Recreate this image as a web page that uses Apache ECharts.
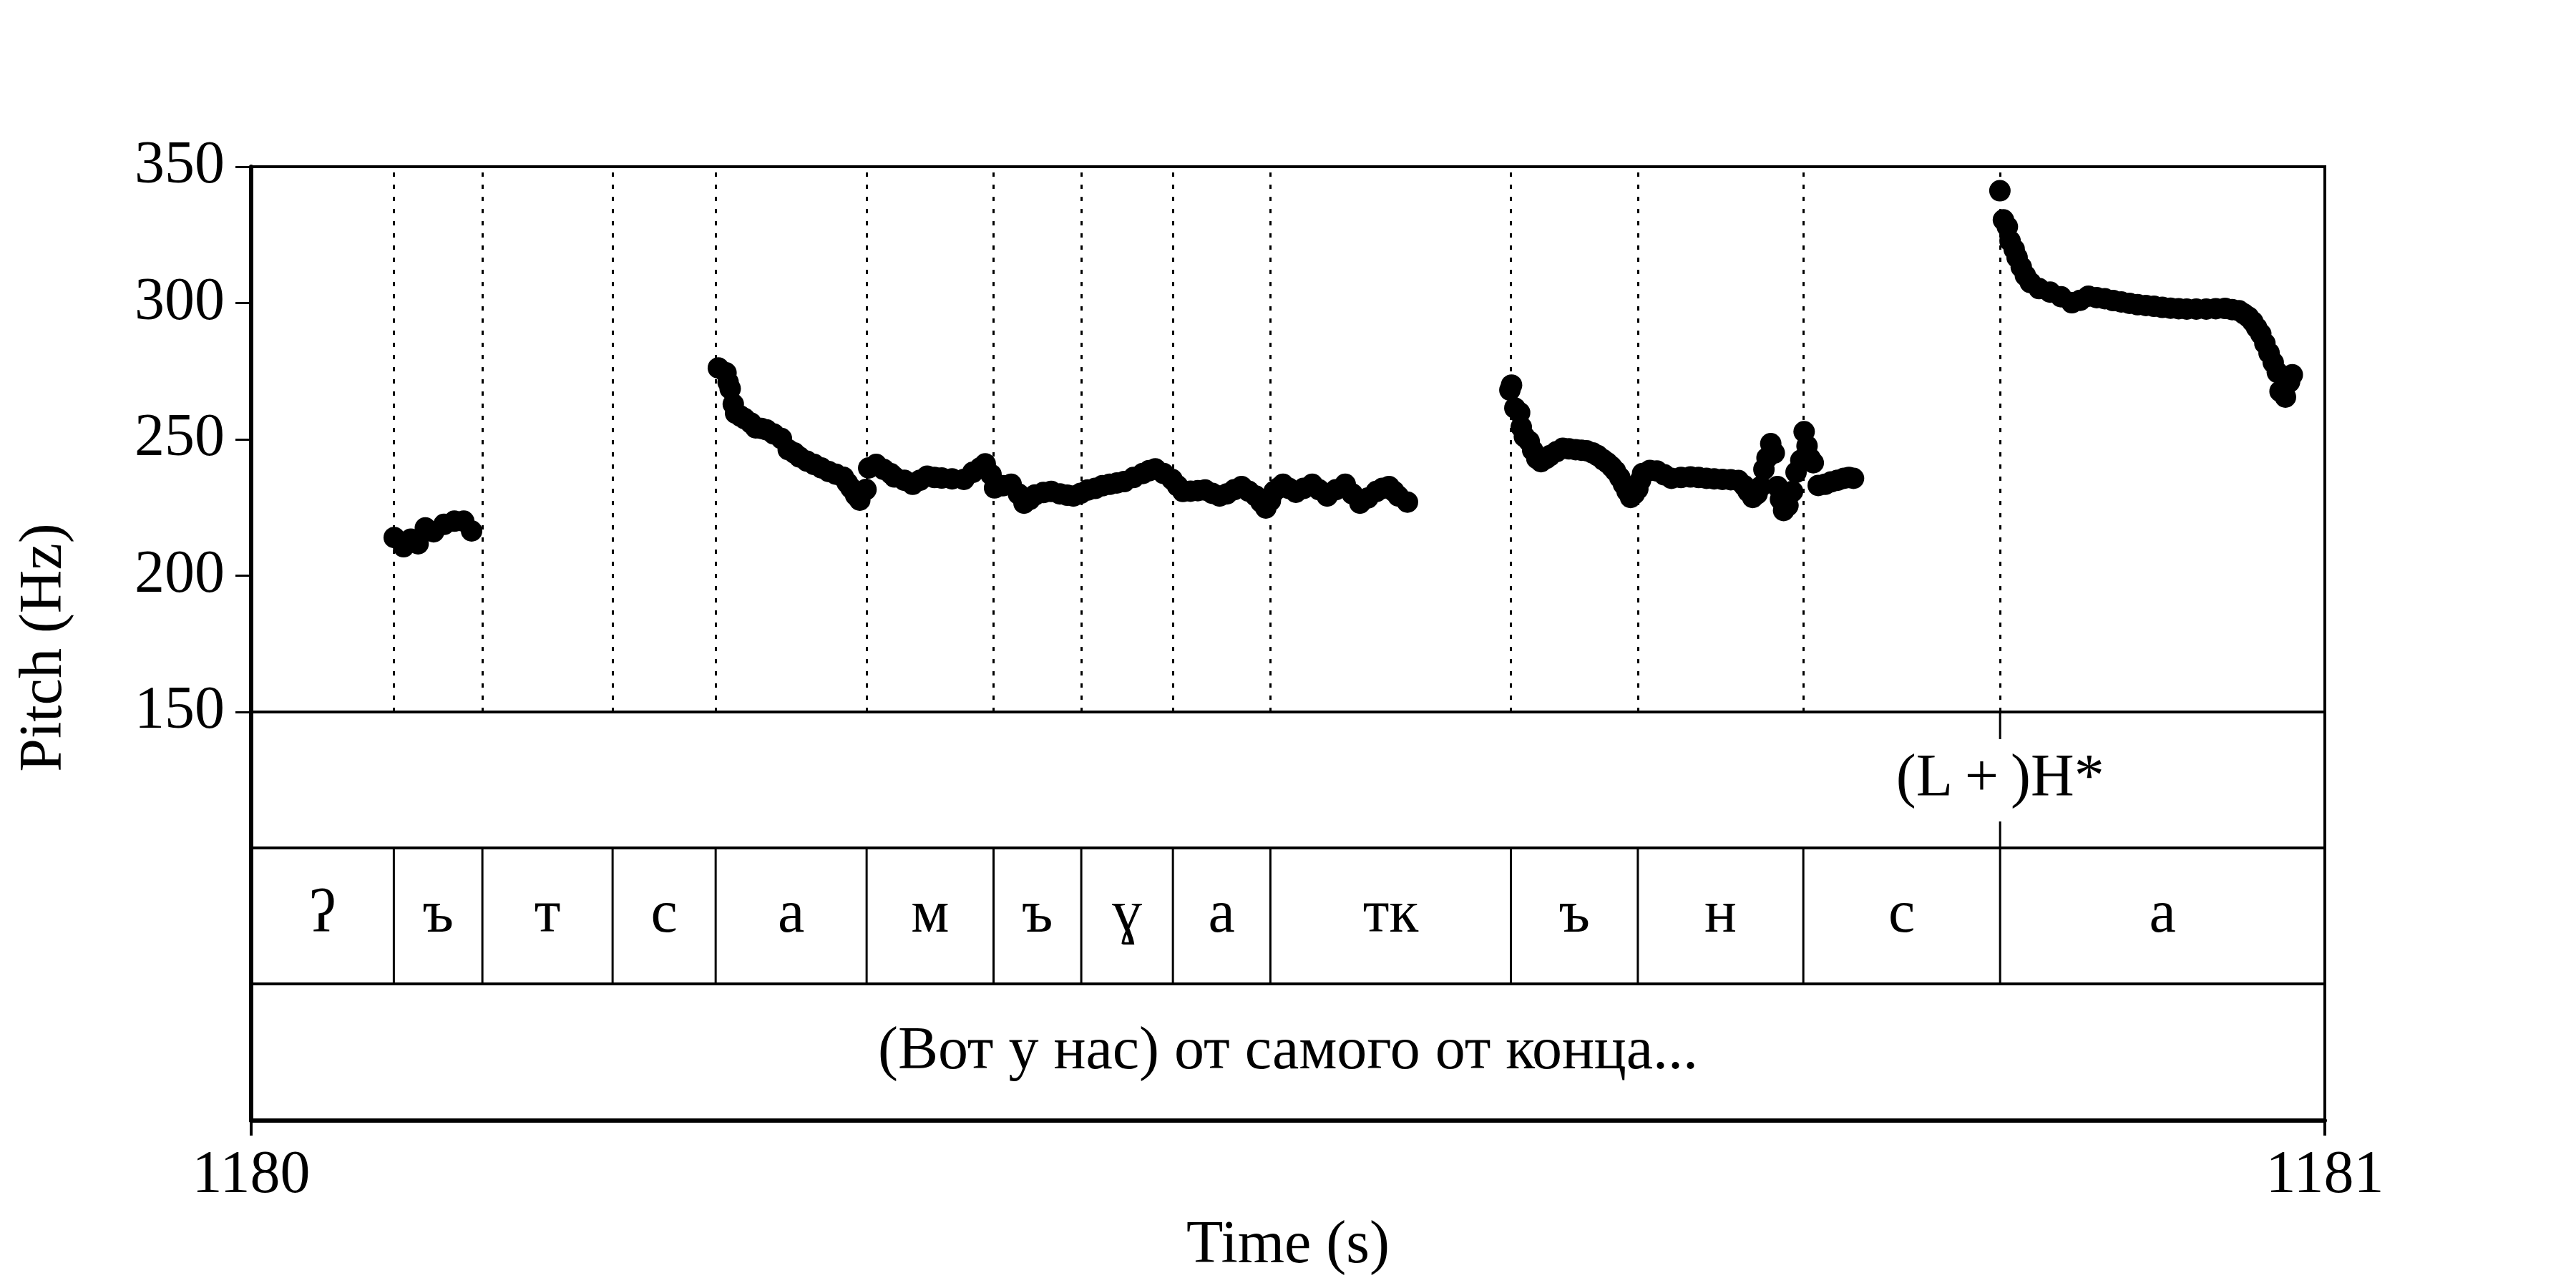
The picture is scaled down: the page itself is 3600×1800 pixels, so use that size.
<!DOCTYPE html>
<html>
<head>
    <meta charset="UTF-8">
    <title>Pitch track</title>
    <script src="https://cdn.jsdelivr.net/npm/echarts@6/dist/echarts.min.js"></script>
</head>
<body style="margin:0; background:#fff;">
    <div id="chart" style="width:3600px; height:1800px;"></div>
    <script>
        // time is given in seconds after 1180 s
        var startTime = 1180;
        var timeTicks = [1180, 1181];
        var pitchTicks = [150, 200, 250, 300, 350];

        // pitch points: [time offset (s), Hz]
        var pitchSeg1 = [
            [0.0690, 214.0], [0.0735, 210.6], [0.0770, 213.4], [0.0805, 211.7], [0.0840, 217.5],
            [0.0880, 216.1], [0.0930, 218.8], [0.0980, 220.0], [0.1025, 220.0], [0.1063, 216.4]
        ];
        var pitchSeg2 = [
            [0.2253, 276.2], [0.2290, 274.4], [0.2300, 271.0], [0.2310, 268.6], [0.2325, 262.9],
            [0.2336, 259.6], [0.2360, 258.5], [0.2380, 257.6], [0.2410, 256.0], [0.2433, 254.2],
            [0.2460, 254.0], [0.2485, 253.5], [0.2520, 252.0], [0.2557, 250.3], [0.2590, 246.2],
            [0.2620, 245.0], [0.2644, 243.5], [0.2680, 242.0], [0.2715, 240.8], [0.2750, 239.5],
            [0.2785, 238.2], [0.2820, 237.2], [0.2856, 236.1], [0.2875, 234.0], [0.2892, 232.2],
            [0.2915, 229.5], [0.2935, 227.7], [0.2965, 231.6],
            [0.2978, 239.5], [0.3014, 240.8], [0.3050, 239.0], [0.3085, 237.4], [0.3102, 236.2],
            [0.3150, 235.0], [0.3190, 233.5], [0.3225, 235.0], [0.3260, 236.5], [0.3295, 236.0],
            [0.3330, 235.8], [0.3380, 235.5], [0.3437, 235.3], [0.3480, 237.9], [0.3515, 239.5],
            [0.3540, 241.0], [0.3568, 237.1], [0.3585, 232.2], [0.3625, 233.0], [0.3665, 233.5],
            [0.3700, 230.0], [0.3727, 226.6], [0.3755, 228.0], [0.3780, 229.6], [0.3820, 230.5],
            [0.3858, 230.9], [0.3900, 230.0], [0.3935, 229.5], [0.3965, 229.2], [0.4000, 230.2],
            [0.4034, 231.4], [0.4070, 232.0], [0.4105, 233.0], [0.4140, 233.5], [0.4175, 234.0],
            [0.4210, 234.5], [0.4255, 236.0], [0.4300, 237.5], [0.4330, 238.5], [0.4360, 239.2],
            [0.4400, 237.5], [0.4441, 235.3], [0.4467, 233.0], [0.4493, 230.9], [0.4530, 231.0],
            [0.4565, 231.2], [0.4600, 231.4], [0.4635, 230.2], [0.4670, 229.2], [0.4705, 230.0],
            [0.4740, 231.5], [0.4776, 232.7], [0.4810, 231.0], [0.4845, 229.2], [0.4870, 227.0],
            [0.4893, 224.8], [0.4915, 227.5], [0.4933, 230.9], [0.4955, 232.2], [0.4976, 233.5],
            [0.5005, 232.0], [0.5038, 230.6], [0.5075, 232.0], [0.5117, 233.5], [0.5150, 231.5],
            [0.5189, 229.2], [0.5230, 231.5], [0.5276, 233.5], [0.5310, 230.0], [0.5347, 226.6],
            [0.5385, 228.5], [0.5426, 230.9], [0.5455, 232.0], [0.5487, 232.7], [0.5510, 231.0],
            [0.5532, 229.2], [0.5576, 227.0]
        ];
        var pitchSeg3 = [
            [0.6070, 268.1], [0.6078, 269.9], [0.6094, 261.5], [0.6117, 259.8], [0.6125, 254.5],
            [0.6140, 251.0], [0.6163, 249.3], [0.6180, 246.0], [0.6200, 243.0], [0.6220, 241.8],
            [0.6245, 243.0], [0.6263, 244.0], [0.6295, 245.5], [0.6325, 246.7], [0.6355, 246.5],
            [0.6387, 246.2], [0.6415, 246.0], [0.6440, 245.8], [0.6470, 245.0], [0.6494, 244.0],
            [0.6520, 242.5], [0.6540, 241.4], [0.6560, 240.0], [0.6579, 238.4], [0.6600, 236.0],
            [0.6618, 233.5], [0.6635, 231.0], [0.6652, 228.7], [0.6670, 230.0], [0.6687, 231.8],
            [0.6700, 235.0], [0.6710, 237.5], [0.6745, 238.6], [0.6779, 238.4], [0.6815, 237.0],
            [0.6849, 235.7], [0.6895, 236.0], [0.6941, 236.2], [0.6980, 236.0], [0.7018, 235.7],
            [0.7055, 235.5], [0.7095, 235.3], [0.7135, 235.2], [0.7172, 234.9], [0.7200, 233.0],
            [0.7219, 230.9], [0.7241, 228.7], [0.7262, 230.0], [0.7280, 232.7], [0.7295, 239.0],
            [0.7310, 243.2], [0.7328, 248.4], [0.7345, 245.0], [0.7360, 232.7], [0.7375, 228.0],
            [0.7390, 223.9], [0.7411, 225.7], [0.7433, 230.9], [0.7450, 237.9], [0.7473, 242.3],
            [0.7489, 252.8], [0.7503, 247.6], [0.7518, 243.0], [0.7533, 241.4], [0.7557, 233.1],
            [0.7590, 233.5], [0.7619, 234.4], [0.7650, 235.0], [0.7681, 235.7], [0.7705, 236.0],
            [0.7727, 235.7]
        ];
        var pitchSeg4 = [
            [0.8433, 341.2], [0.8450, 330.5], [0.8469, 328.0], [0.8482, 322.8], [0.8502, 319.7],
            [0.8516, 316.7], [0.8536, 313.2], [0.8556, 310.1], [0.8580, 307.5], [0.8622, 305.3],
            [0.8675, 304.0], [0.8728, 302.3], [0.8780, 300.1], [0.8820, 301.0], [0.8860, 302.5],
            [0.8900, 302.0], [0.8939, 301.6], [0.8979, 300.9], [0.9018, 300.4], [0.9058, 299.9],
            [0.9097, 299.4], [0.9137, 299.1], [0.9176, 298.8], [0.9216, 298.4], [0.9256, 298.1],
            [0.9295, 297.9], [0.9334, 297.8], [0.9380, 297.8], [0.9428, 297.8], [0.9474, 297.9],
            [0.9519, 298.0], [0.9553, 297.6], [0.9586, 297.2], [0.9610, 296.0], [0.9631, 294.9],
            [0.9652, 293.2], [0.9671, 291.0], [0.9691, 288.7], [0.9711, 285.2], [0.9731, 281.7],
            [0.9751, 278.2], [0.9771, 274.6], [0.9784, 267.6], [0.9810, 265.5], [0.9830, 271.1],
            [0.9843, 273.7]
        ];

        // phone tier
        var phoneBounds = [0, 0.0688, 0.1115, 0.1743, 0.2240, 0.2968, 0.3580, 0.4003, 0.4445,
            0.4915, 0.6075, 0.6687, 0.7485, 0.8434, 1];
        var phoneLabels = ['ʔ', 'ъ', 'т', 'с', 'а', 'м', 'ъ', 'ɣ', 'а', 'тк', 'ъ', 'н', 'с', 'а'];

        // tone tier (points)
        var toneTimes = [0.8434];
        var toneLabels = ['(L\u2009+\u2009)H*'];

        // word tier
        var wordBounds = [0, 1];
        var wordLabels = ['(Вот у нас) от самого от конца...'];

        var font = '"Liberation Serif", "Times New Roman", serif';
        var fs = 84;
        var chart = echarts.init(document.getElementById('chart'), null, {renderer: 'canvas'});

        function toPoints(seg) {
            return seg.map(function (p) { return [startTime + p[0], p[1]]; });
        }
        var pitchData = [].concat(toPoints(pitchSeg1), toPoints(pitchSeg2), toPoints(pitchSeg3), toPoints(pitchSeg4));

        var boundaryLines = phoneBounds.slice(1, -1).map(function (b) {
            return {xAxis: startTime + b};
        });

        function intervalData(bounds, labels) {
            return labels.map(function (lab, i) {
                return {value: [startTime + bounds[i], startTime + bounds[i + 1]], name: lab};
            });
        }

        function renderInterval(labels) {
            return function (params, api) {
                var p1 = api.coord([api.value(0), 1]);
                var p2 = api.coord([api.value(1), 0]);
                var children = [];
                if (api.value(0) > startTime) {
                    children.push({
                        type: 'line',
                        shape: {x1: p1[0], y1: p1[1], x2: p1[0], y2: p2[1]},
                        style: {stroke: '#000', lineWidth: 3}
                    });
                }
                children.push({
                    type: 'text',
                    x: (p1[0] + p2[0]) / 2,
                    y: (p1[1] + p2[1]) / 2,
                    style: {
                        text: labels[params.dataIndex], fill: '#000',
                        fontSize: fs, fontFamily: font,
                        align: 'center', verticalAlign: 'middle'
                    }
                });
                return {type: 'group', children: children};
            };
        }

        function renderTone(params, api) {
            var x = api.coord([api.value(0), 0])[0];
            var cs = params.coordSys;
            var mid = cs.y + cs.height / 2;
            return {
                type: 'group',
                children: [
                    {type: 'line', shape: {x1: x, y1: cs.y, x2: x, y2: mid - 57}, style: {stroke: '#000', lineWidth: 3}},
                    {type: 'line', shape: {x1: x, y1: mid + 58, x2: x, y2: cs.y + cs.height}, style: {stroke: '#000', lineWidth: 3}},
                    {
                        type: 'text', x: x, y: mid,
                        style: {
                            text: toneLabels[params.dataIndex], fill: '#000',
                            fontSize: fs, fontFamily: font,
                            align: 'center', verticalAlign: 'middle'
                        }
                    }
                ]
            };
        }

        var gridBase = {left: 351, width: 2898, show: true, borderColor: '#000', borderWidth: 4, backgroundColor: 'transparent'};
        var grids = [
            Object.assign({top: 233, height: 762}, gridBase),
            Object.assign({top: 995, height: 190}, gridBase),
            Object.assign({top: 1185, height: 190}, gridBase),
            Object.assign({top: 1375, height: 191}, gridBase)
        ];

        var xAxes = grids.map(function (g, i) {
            var last = i === grids.length - 1;
            return {
                type: 'value', gridIndex: i,
                min: timeTicks[0], max: timeTicks[timeTicks.length - 1], interval: 1,
                show: last,
                axisLine: {show: true, lineStyle: {color: '#000', width: 6}},
                axisTick: {show: true, length: 21, lineStyle: {color: '#000', width: 4}},
                axisLabel: {
                    show: true, fontSize: fs, fontFamily: font, color: '#000', margin: 36,
                    formatter: function (v) { return String(v); }
                },
                splitLine: {show: false},
                name: last ? 'Time (s)' : '',
                nameLocation: 'middle', nameGap: 134,
                nameTextStyle: {fontSize: fs, fontFamily: font, color: '#000'}
            };
        });

        var yAxes = grids.map(function (g, i) {
            if (i === 0) {
                return {
                    type: 'value', gridIndex: 0,
                    min: pitchTicks[0], max: pitchTicks[pitchTicks.length - 1], interval: 50,
                    axisLine: {show: true, lineStyle: {color: '#000', width: 6}},
                    axisTick: {show: true, length: 22, lineStyle: {color: '#000', width: 3}},
                    axisLabel: {fontSize: fs, fontFamily: font, color: '#000', margin: 37},
                    splitLine: {show: false}
                };
            }
            return {
                type: 'value', gridIndex: i, min: 0, max: 1,
                axisLine: {show: true, lineStyle: {color: '#000', width: 6}},
                axisTick: {show: false}, axisLabel: {show: false}, splitLine: {show: false}
            };
        });

        var option = {
            backgroundColor: '#fff',
            animation: false,
            grid: grids,
            xAxis: xAxes,
            yAxis: yAxes,
            graphic: [{
                type: 'text', x: 63, y: 905, rotation: Math.PI / 2,
                style: {
                    text: 'Pitch (Hz)', fill: '#000', fontSize: fs, fontFamily: font,
                    align: 'center', verticalAlign: 'middle',
                    textAlign: 'center', textVerticalAlign: 'middle'
                }
            }],
            series: [
                {
                    type: 'scatter', xAxisIndex: 0, yAxisIndex: 0,
                    data: pitchData, symbolSize: 30,
                    itemStyle: {color: '#000', opacity: 1},
                    markLine: {
                        silent: true, symbol: ['none', 'none'], precision: 4,
                        label: {show: false},
                        lineStyle: {color: '#000', type: [6, 11], width: 3},
                        data: boundaryLines
                    }
                },
                {
                    type: 'custom', xAxisIndex: 1, yAxisIndex: 1,
                    data: toneTimes.map(function (t) { return [startTime + t]; }),
                    encode: {x: 0},
                    renderItem: renderTone
                },
                {
                    type: 'custom', xAxisIndex: 2, yAxisIndex: 2,
                    data: intervalData(phoneBounds, phoneLabels),
                    encode: {x: [0, 1]},
                    renderItem: renderInterval(phoneLabels)
                },
                {
                    type: 'custom', xAxisIndex: 3, yAxisIndex: 3,
                    data: intervalData(wordBounds, wordLabels),
                    encode: {x: [0, 1]},
                    renderItem: renderInterval(wordLabels)
                }
            ]
        };
        chart.setOption(option);
    </script>
</body>
</html>
